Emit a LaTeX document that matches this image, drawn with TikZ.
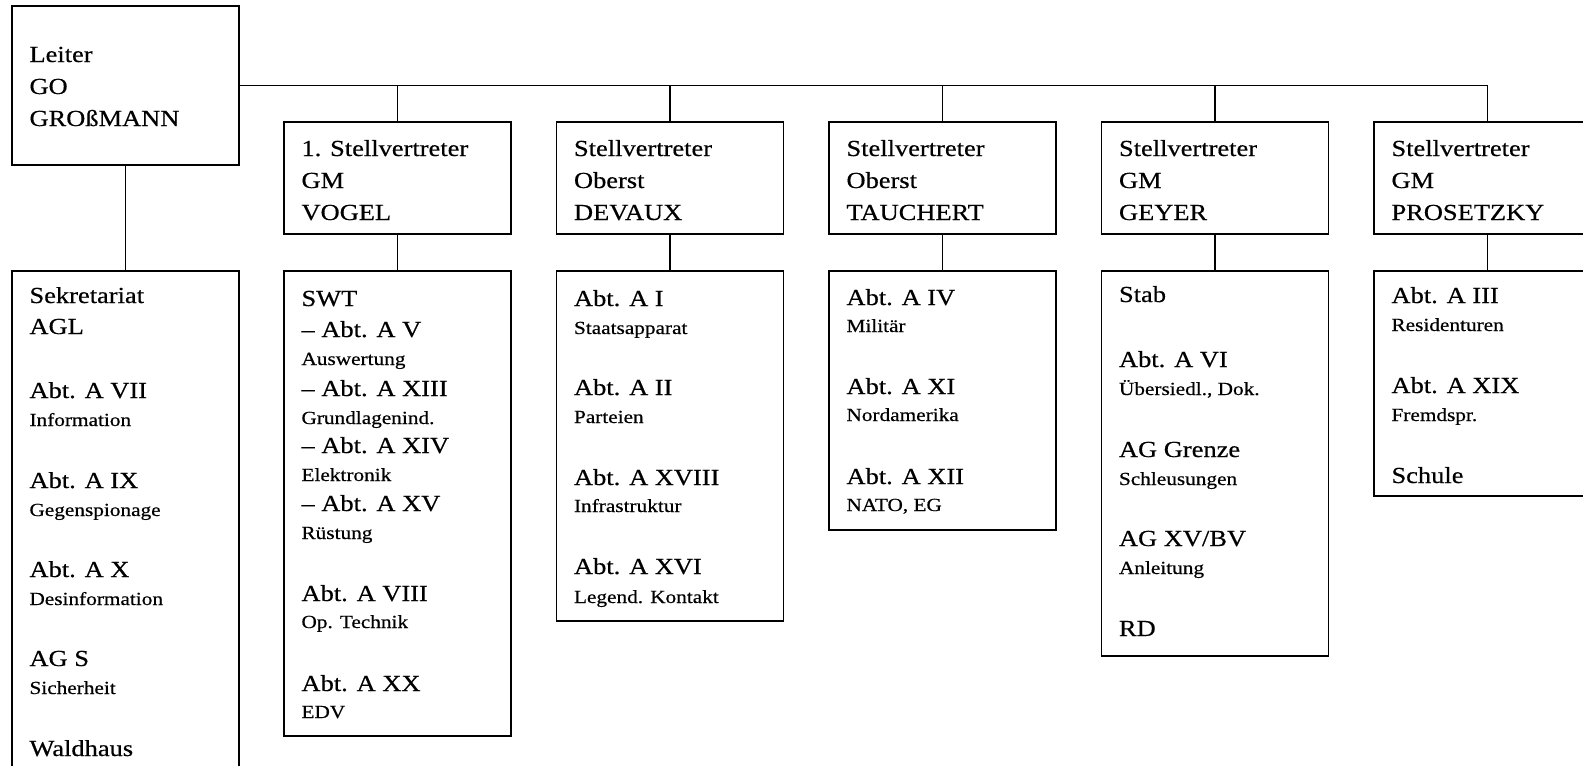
\documentclass[tikz,border=0pt]{standalone}
\usepackage{fontspec}
\setmainfont{Liberation Serif}[FakeStretch=1.15,FakeBold=0.5]
\newcommand\lgfont{\fontsize{23pt}{26pt}\selectfont}
\newcommand\smfont{\fontsize{18.5pt}{21pt}\selectfont}
\newcommand\Lg[2]{\hbox{\rule[-6pt]{0pt}{#1pt}\lgfont #2}}
\newcommand\Sm[2]{\hbox{\rule[-6pt]{0pt}{#1pt}\smfont #2}}
\newcommand\boxtxt[3]{\hbox to #1pt{\kern17.5pt\vbox to #2pt{\offinterlineskip\kern6pt #3\vss}\hss}}
\tikzset{
  bx/.style={draw, line width=1.8pt, inner sep=0pt, outer sep=0pt, anchor=north west},
  ln/.style={line width=1.8pt}
}
\begin{document}
\begin{tikzpicture}[x=1pt,y=-1pt]
\useasboundingbox (0,0) rectangle (1583,766);
\clip (0,0) rectangle (1583,766);
% top row
\node[bx] (leiter) at (12,6) {\boxtxt{227}{159}{\Lg{56}{Leiter}\Lg{32}{GO}\Lg{32}{GROßMANN}}};
\node[bx] (vogel) at (284,122) {\boxtxt{227}{112}{\Lg{34}{1. Stellvertreter}\Lg{32}{GM}\Lg{32}{VOGEL}}};
\node[bx] (devaux) at (556.5,122) {\boxtxt{227}{112}{\Lg{34}{Stellvertreter}\Lg{32}{Oberst}\Lg{32}{DEVAUX}}};
\node[bx] (tauchert) at (829,122) {\boxtxt{227}{112}{\Lg{34}{Stellvertreter}\Lg{32}{Oberst}\Lg{32}{TAUCHERT}}};
\node[bx] (geyer) at (1101.5,122) {\boxtxt{227}{112}{\Lg{34}{Stellvertreter}\Lg{32}{GM}\Lg{32}{GEYER}}};
\node[bx] (prosetzky) at (1374,122) {\boxtxt{227}{112}{\Lg{34}{Stellvertreter}\Lg{32}{GM}\Lg{32}{PROSETZKY}}};
% lower row
\node[bx] (sek) at (12,271) {\boxtxt{227}{530}{%
  \Lg{32}{Sekretariat}\Lg{31}{AGL}%
  \Lg{64}{Abt. A VII}\Sm{28}{Information}%
  \Lg{62}{Abt. A IX}\Sm{28}{Gegenspionage}%
  \Lg{61}{Abt. A X}\Sm{28}{Desinformation}%
  \Lg{61}{AG S}\Sm{28}{Sicherheit}%
  \Lg{62}{Waldhaus}}};
\node[bx] (vogelsub) at (284,271) {\boxtxt{227}{465}{%
  \Lg{35}{SWT}\Lg{31}{– Abt. A V}\Sm{28}{Auswertung}%
  \Lg{31}{– Abt. A XIII}\Sm{28}{Grundlagenind.}%
  \Lg{29}{– Abt. A XIV}\Sm{28}{Elektronik}%
  \Lg{30}{– Abt. A XV}\Sm{28}{Rüstung}%
  \Lg{62}{Abt. A VIII}\Sm{27}{Op. Technik}%
  \Lg{63}{Abt. A XX}\Sm{27}{EDV}}};
\node[bx] (devauxsub) at (556.5,271) {\boxtxt{227}{350}{%
  \Lg{35}{Abt. A I}\Sm{28}{Staatsapparat}%
  \Lg{61}{Abt. A II}\Sm{28}{Parteien}%
  \Lg{62}{Abt. A XVIII}\Sm{27}{Infrastruktur}%
  \Lg{62}{Abt. A XVI}\Sm{29}{Legend. Kontakt}}};
\node[bx] (tauchertsub) at (829,271) {\boxtxt{227}{259}{%
  \Lg{34}{Abt. A IV}\Sm{27}{Militär}%
  \Lg{62}{Abt. A XI}\Sm{27}{Nordamerika}%
  \Lg{63}{Abt. A XII}\Sm{27}{NATO, EG}}};
\node[bx] (geyersub) at (1101.5,271) {\boxtxt{227}{385}{%
  \Lg{31}{Stab}%
  \Lg{65}{Abt. A VI}\Sm{28}{Übersiedl., Dok.}%
  \Lg{62}{AG Grenze}\Sm{28}{Schleusungen}%
  \Lg{61}{AG XV/BV}\Sm{28}{Anleitung}%
  \Lg{62}{RD}}};
\node[bx] (prosetzkysub) at (1374,271) {\boxtxt{227}{225}{%
  \Lg{32}{Abt. A III}\Sm{28}{Residenturen}%
  \Lg{62}{Abt. A XIX}\Sm{28}{Fremdspr.}%
  \Lg{62}{Schule}}};
% connectors
\draw[ln] (leiter.east) -| (prosetzky.north);
\foreach \n in {vogel,devaux,tauchert,geyer}
  \draw[ln] (\n.north) -- (\n.north |- leiter.east);
\draw[ln] (leiter.south) -- (sek.north);
\draw[ln] (vogel.south) -- (vogelsub.north);
\draw[ln] (devaux.south) -- (devauxsub.north);
\draw[ln] (tauchert.south) -- (tauchertsub.north);
\draw[ln] (geyer.south) -- (geyersub.north);
\draw[ln] (prosetzky.south) -- (prosetzkysub.north);
\end{tikzpicture}
\end{document}
